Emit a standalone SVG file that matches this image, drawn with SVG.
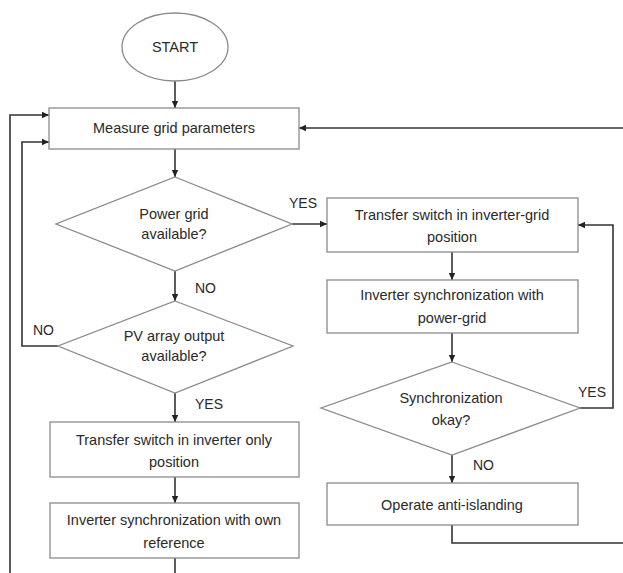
<svg xmlns="http://www.w3.org/2000/svg" width="623" height="573" viewBox="0 0 623 573">
<style>
.box{fill:#fff;stroke:#8a8a8a;stroke-width:1.3}
.t{font-family:"Liberation Sans",Arial,sans-serif;font-size:14.5px;fill:#2a2a2a;text-anchor:middle}
.lbl{font-family:"Liberation Sans",Arial,sans-serif;font-size:14px;fill:#2a2a2a}
.c{fill:none;stroke:#333;stroke-width:1.6}
</style>
<defs>
<marker id="ah" markerUnits="userSpaceOnUse" markerWidth="8" markerHeight="8" refX="7" refY="4" orient="auto">
<path d="M0,0.8 L7,4 L0,7.2 Z" fill="#222"/>
</marker>
</defs>
<rect width="623" height="573" fill="#fff"/>
<g id="connectors">
<path class="c" d="M175,81 V108" marker-end="url(#ah)"/>
<path class="c" d="M175,149 V177" marker-end="url(#ah)"/>
<path class="c" d="M292,224 H327" marker-end="url(#ah)"/>
<path class="c" d="M175,271 V301" marker-end="url(#ah)"/>
<path class="c" d="M58,346 H22 V142 H49" marker-end="url(#ah)"/>
<path class="c" d="M175,393 V422" marker-end="url(#ah)"/>
<path class="c" d="M175,477 V503" marker-end="url(#ah)"/>
<path class="c" d="M175,558 V573"/>
<path class="c" d="M10,573 V115 H49" marker-end="url(#ah)"/>
<path class="c" d="M452,252 V280" marker-end="url(#ah)"/>
<path class="c" d="M452,333 V362" marker-end="url(#ah)"/>
<path class="c" d="M580,408 H613 V225 H578" marker-end="url(#ah)"/>
<path class="c" d="M452,455 V483" marker-end="url(#ah)"/>
<path class="c" d="M452,525 V543 H624"/>
<path class="c" d="M624,128 H299" marker-end="url(#ah)"/>
</g>
<g id="start">
<ellipse class="box" cx="175" cy="47" rx="53" ry="34"/>
<text class="t" x="175" y="52">START</text>
</g>
<g id="measure">
<rect class="box" x="49" y="108" width="250" height="41"/>
<text class="t" x="174" y="133">Measure grid parameters</text>
</g>
<g id="power-grid">
<polygon class="box" points="175,177 292,224 175,271 56,224"/>
<text class="t" x="174" y="219">Power grid</text>
<text class="t" x="174" y="239">available?</text>
</g>
<g id="pv-array">
<polygon class="box" points="175,301 293,346 175,393 58,346"/>
<text class="t" x="174" y="341">PV array output</text>
<text class="t" x="174" y="361">available?</text>
</g>
<g id="ts-only">
<rect class="box" x="50" y="422" width="249" height="55"/>
<text class="t" x="174" y="445">Transfer switch in inverter only</text>
<text class="t" x="174" y="467">position</text>
</g>
<g id="inv-own">
<rect class="box" x="50" y="503" width="249" height="55"/>
<text class="t" x="174" y="525">Inverter synchronization with own</text>
<text class="t" x="174" y="548">reference</text>
</g>
<g id="ts-grid">
<rect class="box" x="327" y="198" width="251" height="54"/>
<text class="t" x="452" y="220">Transfer switch in inverter-grid</text>
<text class="t" x="452" y="242">position</text>
</g>
<g id="inv-grid">
<rect class="box" x="327" y="280" width="251" height="53"/>
<text class="t" x="452" y="300">Inverter synchronization with</text>
<text class="t" x="452" y="323">power-grid</text>
</g>
<g id="sync-ok">
<polygon class="box" points="452,362 580,408 452,455 321,408"/>
<text class="t" x="451" y="403">Synchronization</text>
<text class="t" x="451" y="425">okay?</text>
</g>
<g id="anti-islanding">
<rect class="box" x="327" y="483" width="251" height="42"/>
<text class="t" x="452" y="510">Operate anti-islanding</text>
</g>
<g id="labels">
<text class="lbl" x="289" y="208">YES</text>
<text class="lbl" x="195" y="293">NO</text>
<text class="lbl" x="33" y="335">NO</text>
<text class="lbl" x="195" y="409">YES</text>
<text class="lbl" x="578" y="397">YES</text>
<text class="lbl" x="473" y="470">NO</text>
</g>
</svg>
